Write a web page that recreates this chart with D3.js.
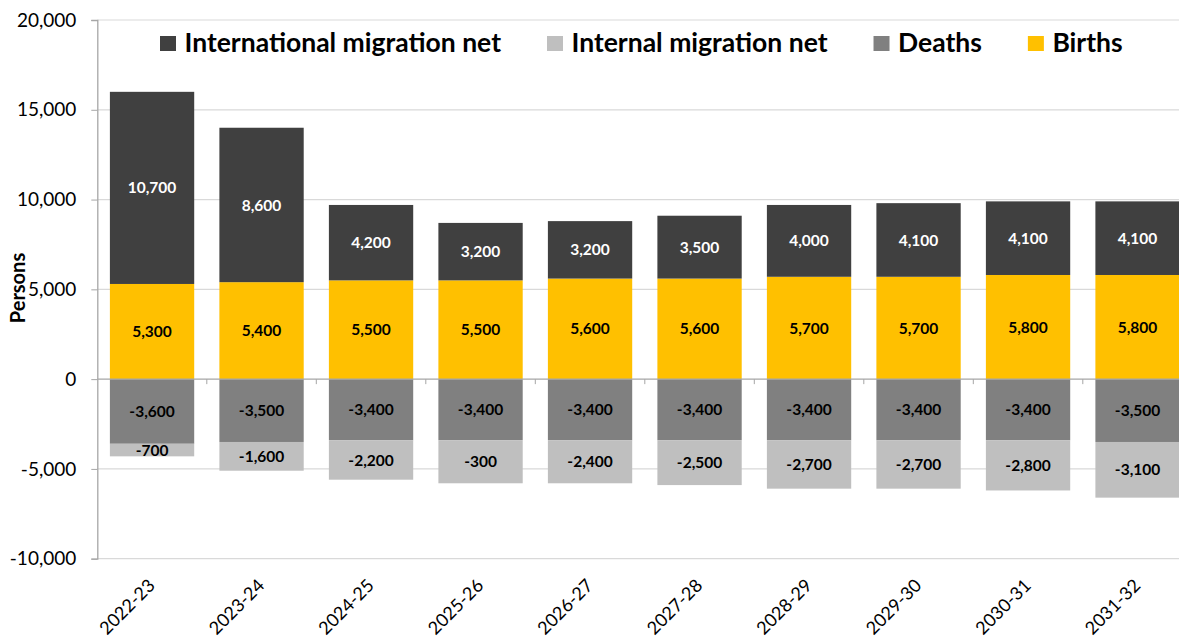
<!DOCTYPE html>
<html>
<head>
<meta charset="utf-8">
<script src="https://cdn.jsdelivr.net/npm/d3@7"></script>
<style>
  html, body { margin: 0; padding: 0; background: #fff; }
  svg { display: block; font-family: Lato, "Noto Sans", sans-serif; }
</style>
</head>
<body>
<script>
const categories = ["2022-23","2023-24","2024-25","2025-26","2026-27","2027-28","2028-29","2029-30","2030-31","2031-32"];
const births = [5300,5400,5500,5500,5600,5600,5700,5700,5800,5800];
const internationalNet = [10700,8600,4200,3200,3200,3500,4000,4100,4100,4100];
const deaths = [-3600,-3500,-3400,-3400,-3400,-3400,-3400,-3400,-3400,-3500];
const internalNet = [-700,-1600,-2200,-2400,-2400,-2500,-2700,-2700,-2800,-3100];
const internalLabels = ["-700","-1,600","-2,200","-300","-2,400","-2,500","-2,700","-2,700","-2,800","-3,100"];
const yTicks = [-10000,-5000,0,5000,10000,15000,20000];
const seriesNames = ["International migration net","Internal migration net","Deaths","Births"];
const seriesColors = {"International migration net":"#404040","Internal migration net":"#bfbfbf","Deaths":"#808080","Births":"#ffc000"};
const labelColors = {"International migration net":"#ffffff","Internal migration net":"#000000","Deaths":"#000000","Births":"#000000"};

const W = 1179, H = 638;
const svg = d3.select("body").append("svg").attr("width", W).attr("height", H);

const locale = d3.formatLocale({decimal: ".", thousands: ",", grouping: [3], currency: ["", ""], minus: "-"});
const fmt = locale.format(",");

const x = d3.scaleBand().domain(categories).range([97.3, 1192.3]).paddingInner(0.23).paddingOuter(0.115);
const y = d3.scaleLinear().domain([-10000, 20000]).range([558.7, 20]);

// gridlines
svg.append("g").selectAll("line").data(yTicks.filter(d => d !== 0)).join("line")
  .attr("x1", 97.3).attr("x2", 1192.3)
  .attr("y1", d => y(d)).attr("y2", d => y(d))
  .attr("stroke", "#d9d9d9").attr("stroke-width", 1.2);

// build segments
const segs = [];
categories.forEach((c, i) => {
  segs.push({cat: c, s: "Births", y0: 0, y1: births[i], label: fmt(births[i])});
  segs.push({cat: c, s: "International migration net", y0: births[i], y1: births[i] + internationalNet[i], label: fmt(internationalNet[i])});
  segs.push({cat: c, s: "Deaths", y0: 0, y1: deaths[i], label: fmt(deaths[i])});
  segs.push({cat: c, s: "Internal migration net", y0: deaths[i], y1: deaths[i] + internalNet[i], label: internalLabels[i]});
});

svg.append("g").selectAll("rect").data(segs).join("rect")
  .attr("x", d => x(d.cat))
  .attr("width", x.bandwidth())
  .attr("y", d => y(Math.max(d.y0, d.y1)))
  .attr("height", d => Math.abs(y(d.y0) - y(d.y1)))
  .attr("fill", d => seriesColors[d.s]);

svg.append("g").selectAll("text").data(segs).join("text")
  .attr("x", d => x(d.cat) + x.bandwidth() / 2)
  .attr("y", d => (y(d.y0) + y(d.y1)) / 2)
  .attr("dy", "0.36em")
  .attr("text-anchor", "middle")
  .attr("font-size", 15.5).attr("font-weight", "bold")
  .attr("fill", d => labelColors[d.s])
  .text(d => d.label);

// y axis
const yAxis = svg.append("g").attr("transform", "translate(97.3,0)")
  .call(d3.axisLeft(y).tickValues(yTicks).tickSize(6).tickPadding(15).tickFormat(d => fmt(d)));
yAxis.select(".domain").attr("stroke", "#a6a6a6").attr("stroke-width", 1.3);
yAxis.selectAll(".tick line").attr("stroke", "#a6a6a6");
yAxis.selectAll(".tick text").attr("font-size", 19).attr("fill", "#000").attr("font-family", "Lato, sans-serif");

// x axis line at zero with boundary ticks
const zeroY = y(0);
svg.append("line").attr("x1", 97.3).attr("x2", 1192.3).attr("y1", zeroY).attr("y2", zeroY)
  .attr("stroke", "#a6a6a6").attr("stroke-width", 1.3);
svg.append("g").selectAll("line").data(categories).join("line")
  .attr("x1", d => x(d) + x.bandwidth() + x.step() * 0.115)
  .attr("x2", d => x(d) + x.bandwidth() + x.step() * 0.115)
  .attr("y1", zeroY).attr("y2", zeroY + 5)
  .attr("stroke", "#a6a6a6");

// x labels at bottom
svg.append("g").selectAll("text").data(categories).join("text")
  .attr("transform", d => `translate(${x(d) + x.bandwidth() / 2 + 4},${y(-10000) + 28}) rotate(-45)`)
  .attr("text-anchor", "end")
  .attr("font-size", 18).attr("fill", "#000")
  .text(d => d);

// y title
svg.append("text")
  .attr("transform", "translate(25,288) rotate(-90)")
  .attr("text-anchor", "middle")
  .attr("font-size", 20).attr("font-weight", "bold")
  .text("Persons");

// legend
const lg = svg.append("g");
let lx = 160;
seriesNames.forEach(name => {
  lg.append("rect").attr("x", lx).attr("y", 36).attr("width", 16).attr("height", 15).attr("fill", seriesColors[name]);
  const t = lg.append("text").attr("x", lx + 24.5).attr("y", 52)
    .attr("font-size", 26.5).attr("font-weight", "bold").attr("fill", "#000").text(name);
  lx = lx + 24.5 + t.node().getComputedTextLength() + 46;
});
</script>
</body>
</html>
